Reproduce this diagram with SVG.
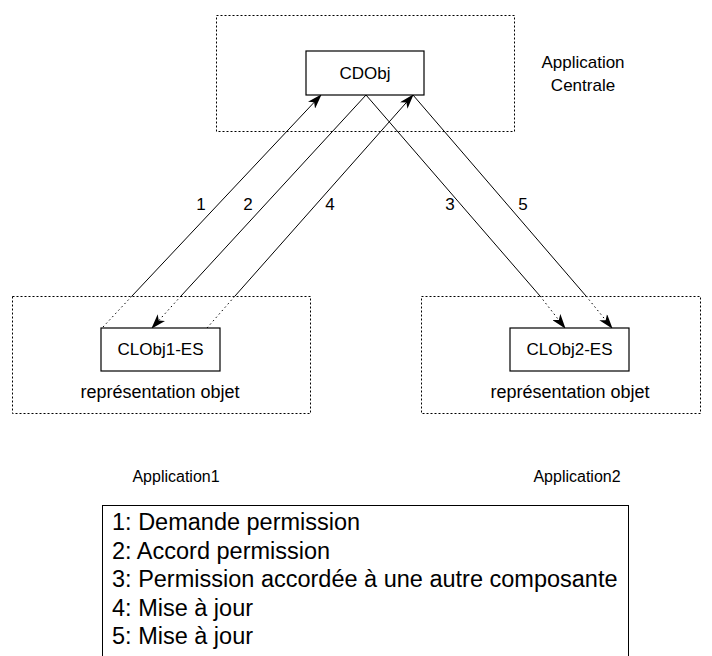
<svg xmlns="http://www.w3.org/2000/svg" width="712" height="656" viewBox="0 0 712 656">
<defs>
<style>
text{font-family:"Liberation Sans",Arial,sans-serif;fill:#000}
.t{font-size:17px;text-anchor:middle}
.a{font-size:16px;text-anchor:middle}
.r{font-size:18px;text-anchor:middle}
.lg{font-size:23.5px}
.dot{fill:none;stroke:#000;stroke-width:1;stroke-dasharray:2,2}
.box{fill:#fff;stroke:#000;stroke-width:1.2}
.ln{fill:none;stroke:#000;stroke-width:1}
.dl{fill:none;stroke:#000;stroke-width:1;stroke-dasharray:1.5,3}
</style>
<marker id="ah" viewBox="0 0 15 10" refX="14" refY="5" markerWidth="15" markerHeight="10" markerUnits="userSpaceOnUse" orient="auto">
<path d="M0,0 L15,5 L0,10 L4,5 Z" fill="#000"/>
</marker>
</defs>
<rect width="712" height="656" fill="#fff"/>
<g id="app-centrale">
<rect class="dot" x="216.5" y="15.5" width="298" height="116"/>
<text class="t" x="583" y="68">Application</text>
<text class="t" x="583" y="91">Centrale</text>
</g>
<g id="app1">
<rect class="dot" x="12.5" y="296.5" width="298" height="117"/>
<text class="a" x="176" y="482">Application1</text>
</g>
<g id="app2">
<rect class="dot" x="421.5" y="296.5" width="279" height="117"/>
<text class="a" x="577" y="482">Application2</text>
</g>
<g id="connectors">
<line class="dl" x1="103" y1="327" x2="132" y2="296"/>
<line class="ln" x1="132" y1="296" x2="321" y2="95" marker-end="url(#ah)"/>
<line class="ln" x1="366" y1="95" x2="181" y2="296"/>
<line class="dl" x1="181" y1="296" x2="152" y2="328" marker-end="url(#ah)"/>
<line class="dl" x1="207" y1="328" x2="235" y2="296"/>
<line class="ln" x1="235" y1="296" x2="413" y2="95" marker-end="url(#ah)"/>
<line class="ln" x1="366" y1="95" x2="540" y2="296"/>
<line class="dl" x1="540" y1="296" x2="565" y2="328" marker-end="url(#ah)"/>
<line class="ln" x1="413" y1="95" x2="586" y2="296"/>
<line class="dl" x1="586" y1="296" x2="612" y2="328" marker-end="url(#ah)"/>
<text class="t" x="201" y="210">1</text>
<text class="t" x="248" y="210">2</text>
<text class="t" x="330" y="210">4</text>
<text class="t" x="450" y="210">3</text>
<text class="t" x="523" y="210">5</text>
</g>
<g id="cdobj">
<rect class="box" x="306" y="51" width="118" height="44"/>
<text class="t" x="365" y="79">CDObj</text>
</g>
<g id="clobj1">
<rect class="box" x="101" y="328" width="119" height="43"/>
<text class="t" x="160.5" y="355">CLObj1-ES</text>
<text class="r" x="160" y="398">représentation objet</text>
</g>
<g id="clobj2">
<rect class="box" x="510" y="328" width="119" height="43"/>
<text class="t" x="569.5" y="355">CLObj2-ES</text>
<text class="r" x="570" y="398">représentation objet</text>
</g>
<g id="legend">
<rect fill="#fff" stroke="#000" stroke-width="1" x="102.5" y="505.5" width="526" height="170"/>
<text class="lg" x="112" y="530">1: Demande permission</text>
<text class="lg" x="112" y="558.5">2: Accord permission</text>
<text class="lg" x="112" y="587">3: Permission accordée à une autre composante</text>
<text class="lg" x="112" y="615.5">4: Mise à jour</text>
<text class="lg" x="112" y="644">5: Mise à jour</text>
</g>
</svg>
